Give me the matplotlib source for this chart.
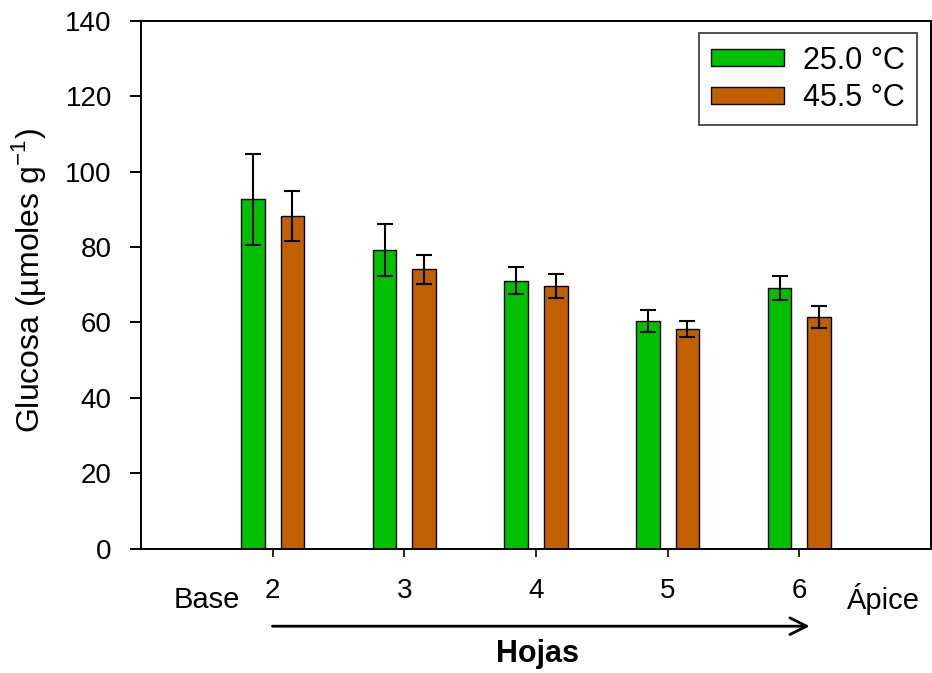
import numpy as np
import matplotlib
matplotlib.use("Agg")
import matplotlib.pyplot as plt

plt.rcParams['font.family'] = ['Liberation Sans', 'DejaVu Sans']

# leaves counted from base to apex
hojas = [2, 3, 4, 5, 6]
temps = ['25.0 °C', '45.5 °C']
glucosa_25 = [92.6, 79.2, 71.1, 60.4, 69.1]
err_25 = [12.1, 6.9, 3.5, 3.0, 3.2]
glucosa_45 = [88.2, 74.1, 69.6, 58.3, 61.4]
err_45 = [6.6, 3.9, 3.2, 2.2, 2.9]
yticks = [0, 20, 40, 60, 80, 100, 120, 140]

fig = plt.figure(figsize=(9.32, 6.73), dpi=100)
ax = fig.add_axes([0.1513, 0.1847, 0.8476, 0.7845])

x = np.array(hojas, dtype=float)
w = 0.18
ebar = dict(ecolor='black', elinewidth=1.5, capsize=5.5, capthick=1.5)
ax.bar(x - 0.15, glucosa_25, w, yerr=err_25, color='#00c000',
       edgecolor='black', linewidth=1.0, label=temps[0], error_kw=ebar)
ax.bar(x + 0.15, glucosa_45, w, yerr=err_45, color='#c06000',
       edgecolor='black', linewidth=1.0, label=temps[1], error_kw=ebar)

ax.set_xlim(1, 7)
ax.set_ylim(0, 140)
ax.set_yticks(yticks)
ax.set_xticks(hojas)
ax.tick_params(axis='y', direction='out', length=8, width=1.4, labelsize=20, pad=13)
ax.tick_params(axis='x', direction='out', length=6, width=1.2, labelsize=20, pad=15)
for s in ax.spines.values():
    s.set_linewidth(1.4)

ax.set_ylabel('Glucosa (µmoles g$^{\\mathregular{-1}}$)', fontsize=23)
ax.yaxis.set_label_coords(-0.118, 0.507)

# base / apex markers and the direction arrow under the axis
ax.text(1.503, -15.65, 'Base', fontsize=21, ha='center', va='baseline',
        clip_on=False)
ax.text(6.636, -16.0, 'Ápice', fontsize=21, ha='center', va='baseline',
        clip_on=False)
ax.annotate('', xy=(6.1, -20.55), xytext=(1.977, -20.55), xycoords='data',
            annotation_clip=False,
            arrowprops=dict(arrowstyle='->', lw=2.0, color='black',
                            mutation_scale=30))
ax.text(4.008, -29.97, 'Hojas', fontsize=22, fontweight='bold', ha='center',
        va='baseline', clip_on=False)

leg = ax.legend(loc='upper right', bbox_to_anchor=(0.982, 0.976),
                borderaxespad=0, fontsize=22, frameon=True, fancybox=False,
                handlelength=2.39, handleheight=0.49, handletextpad=0.6,
                labelspacing=0.25, borderpad=0.4)
leg.get_frame().set_edgecolor('black')
leg.get_frame().set_linewidth(1.2)

fig.savefig('out.png', dpi=100)
